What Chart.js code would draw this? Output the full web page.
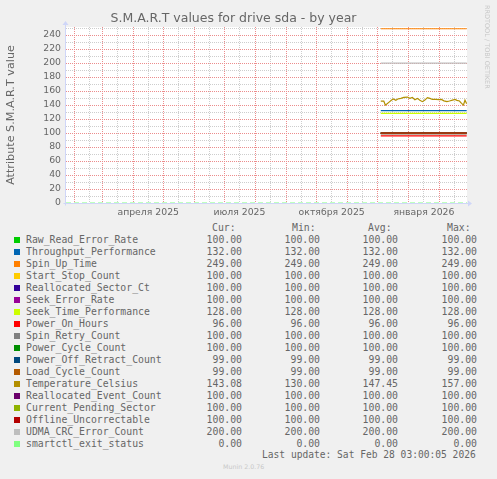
<!DOCTYPE html>
<html><head><meta charset="utf-8">
<script src="https://cdn.jsdelivr.net/npm/chart.js@4.4.1/dist/chart.umd.min.js"></script>
<style>
body{margin:0;background:#f0f0f0;width:497px;height:479px;overflow:hidden;position:relative;font-family:'DejaVu Sans',sans-serif;color:#666}
#wrap{position:absolute;left:0;top:0;width:497px;height:222px}
.mono{position:absolute;font-family:'DejaVu Sans Mono',monospace;font-size:9.8px;line-height:12px;white-space:pre;color:#666}
.sw{position:absolute;width:6px;height:6px}
#wm{position:absolute;left:483px;top:5px;font-size:6.5px;color:#c8c8c8;writing-mode:vertical-rl}
#ft{position:absolute;left:223px;top:463px;font-size:6.3px;color:#c8c8c8}
</style></head><body>
<div id="wrap"><canvas id="c"></canvas></div>
<div id="legend"></div>
<div id="wm">RRDTOOL / TOBI OETIKER</div>
<div id="ft">Munin 2.0.76</div>
<script>
// Munin: S.M.A.R.T по году, данные с начала декабря 2025
const seriesNames = ['Raw_Read_Error_Rate','Throughput_Performance','Spin_Up_Time','Start_Stop_Count','Reallocated_Sector_Ct','Seek_Error_Rate','Seek_Time_Performance','Power_On_Hours','Spin_Retry_Count','Power_Cycle_Count','Power_Off_Retract_Count','Load_Cycle_Count','Temperature_Celsius','Reallocated_Event_Count','Current_Pending_Sector','Offline_Uncorrectable','UDMA_CRC_Error_Count','smartctl_exit_status'];
const seriesColors = ['#00CC00','#0066B3','#FF8000','#FFCC00','#330099','#990099','#CCFF00','#FF0000','#808080','#008F00','#00487D','#B35A00','#B38F00','#6B006B','#8FB300','#B30000','#BEBEBE','#80FF80'];
const levels = [100,132,249,100,100,100,128,96,100,100,99,99,null,100,100,100,200,0];
const spanDays = [314, 399.7];
const exitSpanDays = [0, 400];
const tempDays = [314,317,318.5,320,322,324.5,326.5,329,331,334,337,340.5,343,345.5,348,350.5,353,355.5,358,360.5,363,365.5,369,372,374.5,377,380,382.5,385.5,388,390,392.5,394.5,396.5,398,399.7];
const tempVals = [145.7,145.7,140,141.4,143.8,146.7,148.6,146.7,148.6,149.5,151,151.4,149.5,151,147.6,149.5,146.7,144.8,147,150.5,149.5,148,148,147.6,148,146,144.8,145.7,147,148,146.7,145.7,142.4,140,147,141.9];
const curVals = [100,132,249,100,100,100,128,96,100,100,99,99,143.08,100,100,100,200,0];
const minVals = [100,132,249,100,100,100,128,96,100,100,99,99,130,100,100,100,200,0];
const avgVals = [100,132,249,100,100,100,128,96,100,100,99,99,147.45,100,100,100,200,0];
const maxVals = [100,132,249,100,100,100,128,96,100,100,99,99,157,100,100,100,200,0];

const yTicks = [0,10,20,30,40,50,60,70,80,90,100,110,120,130,140,150,160,170,180,190,200,210,220,230,240,250];
const monthStarts = ['2025-02-01','2025-03-01','2025-04-01','2025-05-01','2025-06-01','2025-07-01','2025-08-01','2025-09-01','2025-10-01','2025-11-01','2025-12-01','2026-01-01','2026-02-01'];
const midMonths = ['2025-02-16','2025-03-16','2025-04-16','2025-05-16','2025-06-16','2025-07-16','2025-08-16','2025-09-16','2025-10-16','2025-11-16','2025-12-16','2026-01-16','2026-02-16'];
const xLabelDates = ['2025-04-16','2025-07-16','2025-10-16','2026-01-16'];
const xLabels = ['апреля 2025','июля 2025','октября 2025','января 2026'];

const t0 = Date.UTC(2025,0,24,0);
const day = s => (Date.parse(s+'T00:00:00Z') - t0) / 864e5;
// сетка по X: чередуются начало месяца (major) и середина (minor)
const xGrid = [];
monthStarts.forEach((s,i) => { xGrid.push({value:day(s), major:true}); xGrid.push({value:day(midMonths[i]), major:false}); });
const labelX = xLabelDates.map(day);

const datasets = seriesNames.map((n,i) => {
  let data;
  if (levels[i] === null) data = tempDays.map((d,k) => ({x:d, y:tempVals[k]}));
  else {
    const sp = n === 'smartctl_exit_status' ? exitSpanDays : spanDays;
    data = sp.map(d => ({x:d, y:levels[i]}));
  }
  return {label:n, data, borderColor:seriesColors[i], borderWidth:1.2, pointRadius:0, tension:0, fill:false,
    borderDash: n === 'smartctl_exit_status' ? [5,3] : [], order: seriesNames.length - i};
});

const gridMajor = 'rgb(236,140,140)', gridMinor = 'rgb(205,205,205)', axisC = '#CFD6F8';
const tickFont = {family:'DejaVu Sans', size:9.3};

const axesPlugin = {
  id:'rrdAxes',
  beforeDraw(c) {
    const {ctx, chartArea:a} = c;
    ctx.save(); ctx.fillStyle = '#fff'; ctx.fillRect(a.left, a.top, a.right-a.left, a.bottom-a.top); ctx.restore();
  },
  beforeDatasetsDraw(c) {
    const {ctx, chartArea:a} = c;
    const x = Math.round(a.left) - 0.5, y = Math.round(a.bottom) + 0.5;
    ctx.save();
    ctx.strokeStyle = axisC; ctx.fillStyle = axisC; ctx.lineWidth = 1;
    ctx.beginPath(); ctx.moveTo(x, y+2); ctx.lineTo(x, a.top-2); ctx.stroke();
    ctx.beginPath(); ctx.moveTo(x-3, a.top-2); ctx.lineTo(x+3, a.top-2); ctx.lineTo(x, a.top-6); ctx.closePath(); ctx.fill();
    ctx.beginPath(); ctx.moveTo(x-2, y); ctx.lineTo(a.right+2, y); ctx.stroke();
    ctx.beginPath(); ctx.moveTo(a.right+1, y-3); ctx.lineTo(a.right+1, y+3); ctx.lineTo(a.right+5, y); ctx.closePath(); ctx.fill();
    ctx.restore();
  }
};

new Chart(document.getElementById('c'), {
  type:'line',
  data:{datasets},
  plugins:[axesPlugin],
  options:{
    responsive:true, maintainAspectRatio:false, animation:false,
    layout:{padding:{left:0, right:30, top:0, bottom:0}},
    plugins:{
      legend:{display:false}, tooltip:{enabled:false},
      title:{display:true, text:'S.M.A.R.T values for drive sda - by year', color:'#666', font:{family:'DejaVu Sans', size:12.5, weight:'normal'}, padding:{top:11.5, bottom:0.5}}
    },
    scales:{
      x:{type:'linear', min:0, max:400, offset:false,
        afterBuildTicks:s => { s.ticks = xGrid.map(g => ({value:g.value})) },
        afterFit:s => { s.height = 19 },
        grid:{drawTicks:false, lineWidth:1, color:ctx => (xGrid[ctx.index] && xGrid[ctx.index].major) ? gridMajor : gridMinor},
        border:{display:false, dash:[1,1]},
        ticks:{autoSkip:false, maxRotation:0, padding:4, color:'#666', font:tickFont,
          callback:v => { const k = labelX.findIndex(d => Math.abs(d-v) < 0.01); return k >= 0 ? xLabels[k] : '' }}
      },
      y:{min:0, max:251.5,
        afterBuildTicks:s => { s.ticks = yTicks.map(v=>({value:v})) },
        afterFit:s => { s.width = 66 },
        grid:{drawTicks:false, lineWidth:1, color:ctx => (ctx.index % 2 === 0) ? gridMajor : gridMinor},
        border:{display:false, dash:[1,1]},
        ticks:{autoSkip:false, padding:5, color:'#666', font:tickFont, callback:v => (v % 20 === 0 && v <= 240) ? v : ''},
        title:{display:true, text:'Attribute S.M.A.R.T value', color:'#666', font:{family:'DejaVu Sans', size:11.2}, padding:{top:4, bottom:0}}
      }
    }
  }
});

// легенда в стиле rrdtool
const colRight = [242, 320, 398, 477];
const rowY0 = 239.5;
let h = '';
[['Cur:',212],['Min:',292],['Avg:',368],['Max:',447]].forEach(([t,l]) => { h += `<div class="mono" style="left:${l}px;top:${rowY0-17.5}px">${t}</div>` });
seriesNames.forEach((n,i) => {
  const y = rowY0 + i*12 - 6;
  h += `<div class="sw" style="left:14px;top:${y+3}px;background:${seriesColors[i]}"></div>`;
  h += `<div class="mono" style="left:26px;top:${y}px">${n}</div>`;
  [curVals,minVals,avgVals,maxVals].forEach((arr,k) => { h += `<div class="mono" style="right:${497-colRight[k]}px;top:${y}px">${arr[i].toFixed(2)}</div>` });
});
h += `<div class="mono" style="left:262px;top:${455-6}px;font-size:9.6px">Last update: Sat Feb 28 03:00:05 2026</div>`;
document.getElementById('legend').innerHTML = h;
</script>
</body></html>
